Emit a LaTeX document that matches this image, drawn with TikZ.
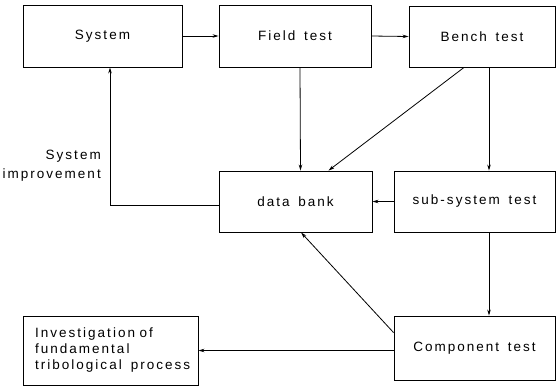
\documentclass[tikz,border=0pt]{standalone}
\usepackage{fontspec}
\newfontfamily\lbl{Liberation Sans}[LetterSpace=15,WordSpace=1.5]
\usetikzlibrary{arrows.meta}
\begin{document}
\begin{tikzpicture}[x=1pt,y=-1pt,
  box/.style={draw,line width=0.9pt,inner sep=0pt,font=\lbl\fontsize{13.5}{16}\selectfont},
  conn/.style={line width=0.8pt,-{Stealth[length=6pt,width=3.5pt]}}]
\useasboundingbox (0,0) rectangle (558,386);
\node[box,minimum width=159pt,minimum height=62pt] (sys) at (102.5,36) {System};
\node[box,minimum width=152pt,minimum height=62pt] (field) at (295,36) {Field test};
\node[box,minimum width=146pt,minimum height=61pt] (bench) at (482,36.5) {Bench test};
\node[box,minimum width=153pt,minimum height=61pt] (data) at (295.5,201.5) {data bank};
\node[box,minimum width=161pt,minimum height=61pt] (sub) at (474.5,201.5) {sub-system test};
\node[box,minimum width=161pt,minimum height=64pt] (comp) at (474.5,348) {Component test};
\node[box,minimum width=175pt,minimum height=69pt,align=left,text width=151pt] (inv) at (110.5,350.5) {\mbox{Investigation of}\\\mbox{fundamental}\\\mbox{tribological\ \ process}};
\node[font=\lbl\fontsize{13.5}{19}\selectfont,align=right,anchor=east,inner sep=0pt] (imp) at (101,166) {System\\improvement};
\draw[conn] (sys.east) -- (field.west);
\draw[conn] (field.east) -- (bench.west);
\draw[conn] ([xshift=5pt]field.south) -- ([xshift=5pt]data.north);
\draw[conn] ([xshift=-18pt]bench.south) -- ([xshift=33pt]data.north);
\draw[conn] ([xshift=7pt]bench.south) -- ([xshift=14.5pt]sub.north);
\draw[conn] (sub.west) -- (data.east);
\draw[conn] ([xshift=14.5pt]sub.south) -- ([xshift=14.5pt]comp.north);
\draw[conn] ([yshift=-3.5pt]data.west) -| ([xshift=7.5pt]sys.south);
\draw[conn] ([yshift=-17pt]comp.north west) -- ([xshift=5.5pt]data.south);
\draw[conn] (inv.east -| comp.west) -- (inv.east);
\end{tikzpicture}
\end{document}
